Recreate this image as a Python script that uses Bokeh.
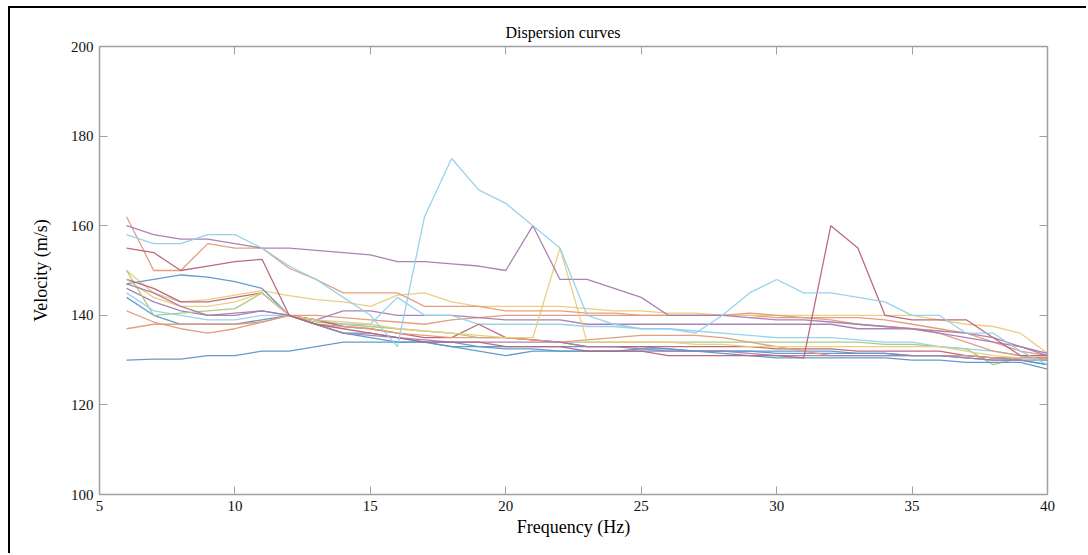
from bokeh.plotting import figure
from bokeh.models import Range1d, FixedTicker, LinearAxis
from bokeh.embed import file_html
from bokeh.resources import INLINE

freq = list(range(6, 41))

c1_cyan = [158,156,156,158,158,155,151,148,144,140,133,162,175,168,165,160,155,140,138,137,137,136,140,145,148,145,145,144,143,140,140,136,136,132,129]
c2_purple = [160,158,157,157,156,155,155,154.5,154,153.5,152,152,151.5,151,150,160,148,148,146,144,140,140,140,139.5,139,139,138.5,138,137.5,137,136,135,134,133,131.5]
c3_orange = [162,150,150,156,155,155,150.5,148,145,145,145,142,142,142,141,141,141,140.5,140.5,140,140,140,140,140.5,140,139.5,139,138,137.5,137,136,134,132,131,131]
c4_darkred = [155,154,150,151,152,152.5,140,138,137,136,135,134,134,134,133,133,133,132,132,132,131,131,131,131,131,130.5,160,155,140,139,139,139,135,131,131]
c5_blue = [147,148,149,148.5,147.5,146,140,138,136,136,135,134,133,133,132.5,132.5,132,132,132,132,132,132,132,132,131.5,131.5,131.5,131.5,131.5,131,131,130.5,130,130,129]
c6_blue = [130,130.2,130.2,131,131,132,132,133,134,134,134,134,133,132,131,132,132,132,132,132.5,132.5,132,131.5,131,130.5,130.5,130.5,130.5,130.5,130,130,129.5,129.5,129.5,128]
c7_yellow = [150,145,143,143.5,144.5,145.5,144.4,143.5,143,142,144.5,145,143,142,142,142,142,141.5,141,141,140.5,140.5,140,140,140,140,140,140,140,140,139,138,137.5,136,131.5]
c8_yellow = [148,144,142,142,143,145,140,139,138.5,138,137,136.5,136,135.5,135,135,155,134,134,134,134,133.5,133.5,133,133,133,133,133,133,133,133,132,131,130.5,130]
c9_green = [150,140,140.5,141,141.5,145,140,138.5,138,137.5,137,136.5,136,135,135,134.5,134,134,134,134,134,134,134,134,134,134,134,134,133.5,133.5,133,132.5,129,130.5,130.5]
c10_purple = [146,143,141,140,140.5,141,140,139,141,141,140,140,140,139.5,139,139,139,138,138,138,138,138,138,138,138,138,138,137,137,137,136.5,136,135,133,131]
c11_orange = [141,138.5,137,136,137,138.5,140,138,137.5,137,136,135.5,135,135,135,134.5,134,134.5,135,135.5,135.5,135.5,135,134,133,132,131,131,131,131,131,131,130.5,130.5,130.5]
c12_orange = [137,138,138,138,138,138.5,140,140,139.5,139,138.5,138,139,139.5,140,140,140,140,140,140,140,140,140,140,139.5,139.5,139.5,139.5,139,138,137,136,134,132,131]
c13_cyan = [145,141,140,139,139,140,140,139,138,138,144,140,140,138,138,138,138,137.5,137.5,137,137,136.5,136,135.5,135,135,135,134.5,134,134,133,132.5,132,131,130]
c14_blue = [144,140,138,138,138,139,140,138,136,135,134,134,134,133,133,133,133,133,133,133,132.5,132,132,132,132,132,132,131.5,131.5,131,131,131,130.5,130,129]
c15_darkred = [148,146,143,143,144,145,140,139,137.5,137,136,135,135,138,135,134.5,134,133,133,133,133,133,133,133,132.5,132.5,132.5,132,132,132,132,131,130.5,130.5,130.5]
c16_purple = [147,145,142,140,140,141,140,138,136,135.5,135,134.5,134,134,134,134,134,133,133,132.5,132,132,132,131.5,131,131,131,131,131,131,131,130.5,130,130,130]

series = [
    (c14_blue, "#5b97c8"), (c12_orange, "#e39a78"), (c7_yellow, "#e9cc7c"),
    (c10_purple, "#a67bb0"), (c9_green, "#a5c97a"), (c13_cyan, "#92d0ea"),
    (c15_darkred, "#b8627a"), (c5_blue, "#5b97c8"), (c11_orange, "#e39a78"),
    (c8_yellow, "#e9cc7c"), (c16_purple, "#a67bb0"), (c6_blue, "#5b97c8"),
    (c3_orange, "#e39a78"), (c2_purple, "#a67bb0"), (c4_darkred, "#b8627a"),
    (c1_cyan, "#92d0ea"),
]

x_ticks = [5, 10, 15, 20, 25, 30, 35, 40]
y_ticks = [100, 120, 140, 160, 180, 200]

SERIF = "Liberation Serif"

p = figure(width=1078, height=547, output_backend="svg", toolbar_location=None,
           x_range=Range1d(5, 40), y_range=Range1d(100, 200),
           min_border_left=89, min_border_right=41, min_border_top=38, min_border_bottom=61,
           title="Dispersion curves")
p.margin = (6, 0, 0, 8)
p.styles = {"border-top": "2px solid black", "border-left": "2px solid black"}
p.outline_line_color = None
p.background_fill_color = "white"
p.border_fill_color = "white"
p.xgrid.visible = False
p.ygrid.visible = False

p.title.align = "left"
p.title.offset = 406
p.title.text_font = SERIF
p.title.text_font_size = "16px"
p.title.text_font_style = "normal"
p.title.text_color = "black"
p.title.standoff = 12

for data, col in series:
    p.line(freq, data, line_color=col, line_width=1.3, line_alpha=0.95)

AX = "#a0a0a0"
for ax in [p.xaxis[0], p.yaxis[0]]:
    ax.axis_line_color = AX
    ax.axis_line_width = 1.5
    ax.major_tick_line_color = AX
    ax.major_tick_in = 8
    ax.major_tick_out = 0
    ax.minor_tick_line_color = None
    ax.major_label_text_font = SERIF
    ax.major_label_text_font_size = "15px"
    ax.major_label_text_color = "#111111"
    ax.axis_label_text_font = SERIF
    ax.axis_label_text_font_size = "18px"
    ax.axis_label_text_font_style = "normal"
    ax.axis_label_text_color = "black"

p.xaxis[0].ticker = FixedTicker(ticks=x_ticks)
p.yaxis[0].ticker = FixedTicker(ticks=y_ticks)
p.xaxis[0].axis_label = "Frequency (Hz)"
p.yaxis[0].axis_label = "Velocity (m/s)"
p.xaxis[0].major_label_standoff = 6
p.yaxis[0].major_label_standoff = 6
p.xaxis[0].axis_label_standoff = 3
p.yaxis[0].axis_label_standoff = 17

top = LinearAxis(ticker=FixedTicker(ticks=x_ticks))
right = LinearAxis(ticker=FixedTicker(ticks=y_ticks))
for ax in [top, right]:
    ax.axis_line_color = AX
    ax.axis_line_width = 1.5
    ax.major_tick_line_color = AX
    ax.major_tick_in = 8
    ax.major_tick_out = 0
    ax.minor_tick_line_color = None
    ax.major_label_text_alpha = 0
    ax.major_label_text_font_size = "1px"
p.add_layout(top, "above")
p.add_layout(right, "right")

open("out.html", "w").write(file_html(p, INLINE))
